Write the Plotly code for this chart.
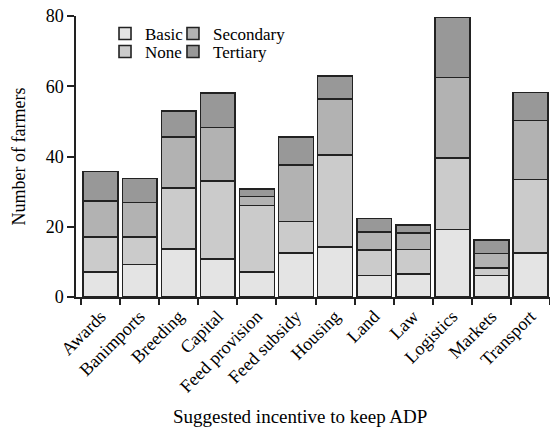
import plotly.graph_objects as go

categories = ["Awards", "Banimports", "Breeding", "Capital", "Feed provision",
              "Feed subsidy", "Housing", "Land", "Law", "Logistics", "Markets", "Transport"]
basic = [7.1, 9.3, 13.6, 10.9, 7.1, 12.6, 14.2, 6.1, 6.6, 19.2, 6.1, 12.5]
none_ = [10.0, 7.8, 17.4, 22.1, 18.9, 8.9, 26.3, 7.3, 6.9, 20.3, 2.1, 21.0]
secondary = [10.2, 9.8, 14.5, 15.3, 2.6, 16.1, 15.9, 5.1, 4.8, 23.0, 4.2, 16.7]
tertiary = [8.4, 6.8, 7.5, 9.7, 2.2, 8.0, 6.5, 3.8, 2.2, 17.1, 3.8, 8.0]

series = [
    ("Basic", basic, "#e4e4e4", "legend"),
    ("None", none_, "#cbcbcb", "legend2"),
    ("Secondary", secondary, "#b2b2b2", "legend3"),
    ("Tertiary", tertiary, "#989898", "legend4"),
]

font = "Liberation Serif, Times New Roman, serif"
fig = go.Figure()
for name, vals, col, lg in series:
    fig.add_trace(go.Bar(x=categories, y=vals, name=name, legend=lg, showlegend=True,
                         marker=dict(color=col, line=dict(color="#222222", width=1.6))))

def leg(x, y):
    return dict(x=x, y=y, font=dict(family=font, size=17, color="black"),
                bgcolor="rgba(0,0,0,0)", orientation="v", xanchor="left", yanchor="top",
                itemwidth=30, traceorder="normal", borderwidth=0)

fig.update_layout(
    barmode="stack", bargap=0.11,
    width=550, height=430,
    margin=dict(l=76, r=0, t=16, b=133),
    plot_bgcolor="white", paper_bgcolor="white",
    font=dict(family=font, size=18, color="black"),
    legend=leg(0.0612, 1.0),
    legend2=leg(0.0612, 0.936),
    legend3=leg(0.2046, 1.0),
    legend4=leg(0.2046, 0.936),
    xaxis=dict(range=[-0.63, 11.5], tickangle=-45, showline=True, linecolor="#222222",
               linewidth=1.5, ticks="outside", tickson="boundaries", ticklen=6,
               tickcolor="#222222", tickwidth=1.5, automargin=False,
               tickfont=dict(family=font, size=18, color="black")),
    yaxis=dict(range=[0, 80], tickvals=[0, 20, 40, 60, 80], showline=True,
               linecolor="#222222", linewidth=1.5, ticks="outside", ticklen=7,
               tickcolor="#222222", tickwidth=1.5, showgrid=False, zeroline=False,
               automargin=False,
               tickfont=dict(family=font, size=18, color="black"),
               title=dict(text="Number of farmers", font=dict(family=font, size=18, color="black"),
                          standoff=15)),
    annotations=[dict(text="Suggested incentive to keep ADP", xref="paper", yref="paper",
                      x=0.4726, y=-0.427, showarrow=False, xanchor="center", yanchor="middle",
                      font=dict(family=font, size=19, color="black"))],
)
fig.write_html("out.html", config={"displayModeBar": False},
               post_script="document.body.style.margin='0';")
